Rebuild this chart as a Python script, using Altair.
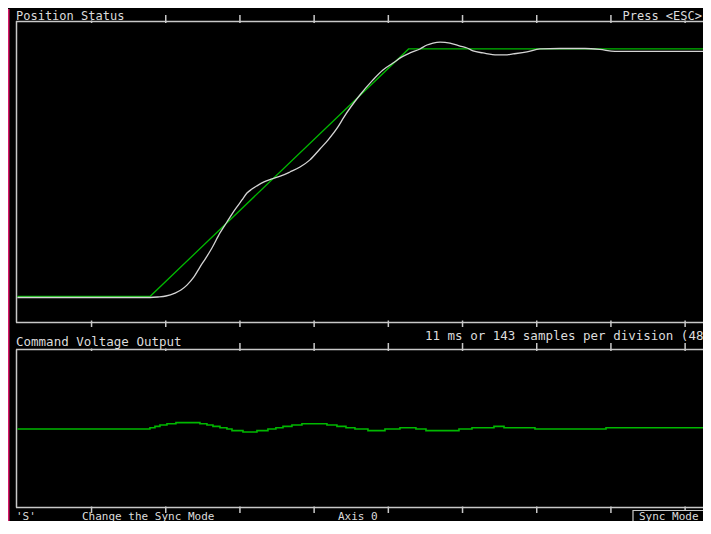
import altair as alt
import pandas as pd

# ---------------- data (time in ms, 11 ms per division) ----------------
cmd_t = [0.0, 19.66, 58.0, 102.8]
cmd_pos = [0, 0, 1000, 1000]

act_t = [0.0, 19.66, 20.84, 22.03, 23.37, 24.25, 25.14, 26.18, 27.07, 27.96,
         28.85, 30.04, 31.07, 31.82, 32.56, 33.30, 34.04, 34.78, 35.52, 36.56,
         37.75, 39.08, 40.41, 41.90, 43.38, 44.86, 46.05, 47.53, 48.42, 50.79,
         52.72, 54.20, 55.69, 57.02, 58.21, 59.69, 60.73, 61.62, 62.66, 64.14,
         65.63, 66.67, 67.56, 69.04, 71.11, 72.30, 73.48, 75.56, 77.48, 80.45,
         84.15, 86.37, 88.60, 102.8]
act_pos = [-4, -4, -2, 2, 14, 26, 46, 79, 119, 156,
           196, 257, 301, 333, 362, 390, 418, 434, 447, 463,
           475, 487, 503, 523, 552, 596, 632, 685, 725, 814,
           875, 915, 943, 968, 984, 1000, 1016, 1024, 1028, 1024,
           1012, 1004, 992, 984, 976, 976, 980, 988, 1000, 1002,
           1002, 998, 990, 990]

volt_t = [0.0, 19.66, 20.40, 21.14, 22.18, 23.51, 27.07, 28.11, 29.00, 30.04,
          31.07, 31.82, 33.45, 35.52, 37.15, 38.33, 39.38, 40.71, 42.19, 45.90,
          47.38, 48.72, 50.05, 51.98, 54.50, 56.72, 59.09, 60.58, 65.47, 67.40,
          70.66, 72.15, 76.74, 87.27, 102.8]
volt_v = [0.0, 0.16, 0.33, 0.5, 0.66, 0.8, 0.66, 0.5, 0.33, 0.16,
          0.0, -0.2, -0.37, -0.2, 0.0, 0.16, 0.33, 0.5, 0.66, 0.5,
          0.33, 0.16, 0.0, -0.2, 0.0, 0.16, 0.0, -0.2, 0.0, 0.16,
          0.33, 0.16, 0.0, 0.16, 0.16]

div_ms = [11, 22, 33, 44, 55, 66, 77, 88, 99]

labels_top = ["Position Status", "Press <ESC>"]
labels_mid = ["Command Voltage Output", "11 ms or 143 samples per division (48"]
labels_bot = ["'S'", "Change the Sync Mode", "Axis 0", "Sync Mode"]

# ---------------- styling ----------------
W, H = 687, 500
GREEN = "#00b800"
WHITE = "#d4d4d4"
FRAME = "#c8c8c8"
TEXT = "#dcdcdc"
MAG = "#d81868"
FONT = "DejaVu Sans Mono"
FS = 12.5

cmd_df = pd.DataFrame({"t": cmd_t, "pos": cmd_pos})
act_df = pd.DataFrame({"t": act_t, "pos": act_pos})
volt_df = pd.DataFrame({"t": volt_t, "v": volt_v})
div_df = pd.DataFrame({"t": div_ms})
one = pd.DataFrame({"a": [0]})

xs = alt.Scale(domain=[-0.2, 101.65], nice=False, zero=False)
top_y = alt.Scale(domain=[-103, 1113], range=[301, 0], nice=False, zero=False)
bot_y = alt.Scale(domain=[-10, 10], range=[488, 328], nice=False, zero=False)

X = alt.X("t:Q", scale=xs, axis=None)

layers = []

# frame lines
def hline(yv):
    return alt.Chart(one).mark_rule(color=FRAME, strokeWidth=1.5).encode(
        x=alt.value(0), x2=alt.value(W + 10), y=alt.value(yv))

def vline(xv, y1, y2):
    return alt.Chart(one).mark_rule(color=FRAME, strokeWidth=1.5).encode(
        x=alt.value(xv), y=alt.value(y1), y2=alt.value(y2))

def ticks(y1, y2):
    return alt.Chart(div_df).mark_rule(color=FRAME, strokeWidth=1.5).encode(
        x=X, y=alt.value(y1), y2=alt.value(y2))

layers += [ticks(-6, 2), ticks(299.5, 306), ticks(322, 330), ticks(485.5, 492)]

# black backgrounds behind the caption texts (they hide the ticks, as on screen)
def blank(x1, x2, y1, y2):
    return alt.Chart(one).mark_rect(color="black").encode(
        x=alt.value(x1), x2=alt.value(x2), y=alt.value(y1), y2=alt.value(y2))

layers += [blank(0, 110, -12, -0.5), blank(604, W + 10, -12, -0.5),
           blank(0, 168, 315, 327.6)]

layers += [hline(0.5), hline(301.5), hline(328.5), hline(486.5),
           vline(0.5, 0, 301.5), vline(0.5, 328.5, 486.5)]

# data series
layers.append(alt.Chart(cmd_df).mark_line(color=GREEN, strokeWidth=1.3).encode(
    x=X, y=alt.Y("pos:Q", scale=top_y, axis=None)))
layers.append(alt.Chart(act_df).mark_line(color=WHITE, strokeWidth=1.3,
                                          interpolate="monotone").encode(
    x=X, y=alt.Y("pos:Q", scale=top_y, axis=None)))
layers.append(alt.Chart(volt_df).mark_line(color=GREEN, strokeWidth=1.6,
                                           interpolate="step-after").encode(
    x=X, y=alt.Y("v:Q", scale=bot_y, axis=None)))

# texts
def label(txt, xv, yv, fs=FS, align="left"):
    return alt.Chart(one).mark_text(align=align, baseline="alphabetic", font=FONT,
                                    fontSize=fs, color=TEXT).encode(
        x=alt.value(xv), y=alt.value(yv), text=alt.value(txt))

layers += [label(labels_top[0], 0, -1.5, 12), label(labels_top[1], W - 1, -1.5, 12, align="right"),
           label(labels_mid[0], 0, 325), label(labels_mid[1], 409, 319)]

# bottom status bar (pulled up so it stays on the page)
layers.append(alt.Chart(one).mark_rect(fill="black", stroke=FRAME, strokeWidth=1.2).encode(
    x=alt.value(617), x2=alt.value(W + 20), y=alt.value(489.5), y2=alt.value(H + 20)))
layers += [label(labels_bot[0], 0, 498.5, 11), label(labels_bot[1], 66, 498.5, 11),
           label(labels_bot[2], 322, 498.5, 11), label(labels_bot[3], 623, 498.5, 11)]

# left magenta strip
layers.append(alt.Chart(one).mark_rule(color=MAG, strokeWidth=2).encode(
    x=alt.value(-7.5), y=alt.value(-12), y2=alt.value(H + 5)))

chart = alt.layer(*layers).resolve_scale(y="independent").properties(
    width=W, height=H, background="black",
    padding={"left": 8, "top": 13, "right": 0, "bottom": 0},
    autosize=alt.AutoSizeParams(type="none"),
).configure_view(strokeWidth=0)

chart.save("out.html", embed_options={"renderer": "svg", "actions": False})
